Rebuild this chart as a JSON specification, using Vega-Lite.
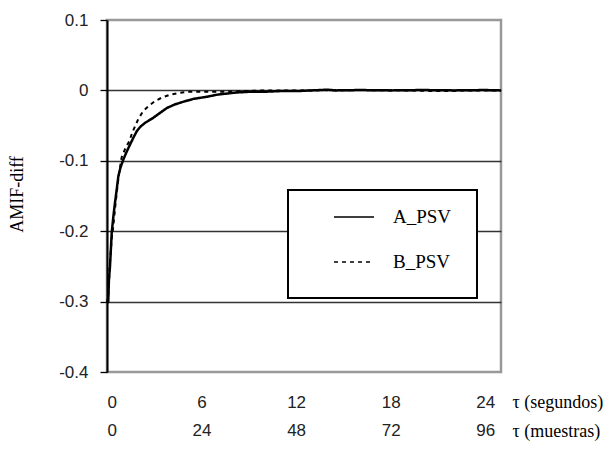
{
  "$schema": "https://vega.github.io/schema/vega-lite/v6.json",
  "width": 394,
  "height": 352,
  "autosize": {"type": "none"},
  "padding": {"left": 107, "top": 20, "right": 112, "bottom": 83},
  "background": "white",
  "data": {
    "values": [
      {"t": 0, "v": -0.302, "series": "A_PSV"},
      {"t": 0.08, "v": -0.3, "series": "A_PSV"},
      {"t": 0.12, "v": -0.27, "series": "A_PSV"},
      {"t": 0.19, "v": -0.25, "series": "A_PSV"},
      {"t": 0.3, "v": -0.202, "series": "A_PSV"},
      {"t": 0.4, "v": -0.18, "series": "A_PSV"},
      {"t": 0.51, "v": -0.159, "series": "A_PSV"},
      {"t": 0.62, "v": -0.14, "series": "A_PSV"},
      {"t": 0.72, "v": -0.122, "series": "A_PSV"},
      {"t": 0.85, "v": -0.11, "series": "A_PSV"},
      {"t": 1.04, "v": -0.098, "series": "A_PSV"},
      {"t": 1.25, "v": -0.087, "series": "A_PSV"},
      {"t": 1.46, "v": -0.077, "series": "A_PSV"},
      {"t": 1.7, "v": -0.066, "series": "A_PSV"},
      {"t": 1.89, "v": -0.058, "series": "A_PSV"},
      {"t": 2.1, "v": -0.052, "series": "A_PSV"},
      {"t": 2.42, "v": -0.046, "series": "A_PSV"},
      {"t": 2.93, "v": -0.039, "series": "A_PSV"},
      {"t": 3.3, "v": -0.033, "series": "A_PSV"},
      {"t": 3.8, "v": -0.025, "series": "A_PSV"},
      {"t": 4.3, "v": -0.02, "series": "A_PSV"},
      {"t": 4.86, "v": -0.016, "series": "A_PSV"},
      {"t": 5.5, "v": -0.012, "series": "A_PSV"},
      {"t": 6.34, "v": -0.009, "series": "A_PSV"},
      {"t": 7.0, "v": -0.006, "series": "A_PSV"},
      {"t": 8.2, "v": -0.003, "series": "A_PSV"},
      {"t": 9.0, "v": -0.002, "series": "A_PSV"},
      {"t": 9.9, "v": -0.002, "series": "A_PSV"},
      {"t": 11, "v": -0.001, "series": "A_PSV"},
      {"t": 12, "v": -0.001, "series": "A_PSV"},
      {"t": 13, "v": 0, "series": "A_PSV"},
      {"t": 14, "v": 0.001, "series": "A_PSV"},
      {"t": 14.5, "v": 0, "series": "A_PSV"},
      {"t": 16, "v": 0.0005, "series": "A_PSV"},
      {"t": 18, "v": 0, "series": "A_PSV"},
      {"t": 20, "v": 0.0005, "series": "A_PSV"},
      {"t": 22, "v": 0, "series": "A_PSV"},
      {"t": 24, "v": 0.0005, "series": "A_PSV"},
      {"t": 25, "v": 0, "series": "A_PSV"},
      {"t": 0, "v": -0.302, "series": "B_PSV"},
      {"t": 0.08, "v": -0.29, "series": "B_PSV"},
      {"t": 0.2, "v": -0.24, "series": "B_PSV"},
      {"t": 0.3, "v": -0.21, "series": "B_PSV"},
      {"t": 0.4, "v": -0.193, "series": "B_PSV"},
      {"t": 0.5, "v": -0.17, "series": "B_PSV"},
      {"t": 0.62, "v": -0.145, "series": "B_PSV"},
      {"t": 0.75, "v": -0.12, "series": "B_PSV"},
      {"t": 0.93, "v": -0.095, "series": "B_PSV"},
      {"t": 1.15, "v": -0.083, "series": "B_PSV"},
      {"t": 1.42, "v": -0.072, "series": "B_PSV"},
      {"t": 1.6, "v": -0.06, "series": "B_PSV"},
      {"t": 1.78, "v": -0.051, "series": "B_PSV"},
      {"t": 2.0, "v": -0.04, "series": "B_PSV"},
      {"t": 2.31, "v": -0.029, "series": "B_PSV"},
      {"t": 2.7, "v": -0.021, "series": "B_PSV"},
      {"t": 3.06, "v": -0.015, "series": "B_PSV"},
      {"t": 3.5, "v": -0.01, "series": "B_PSV"},
      {"t": 4.01, "v": -0.006, "series": "B_PSV"},
      {"t": 4.5, "v": -0.004, "series": "B_PSV"},
      {"t": 5.07, "v": -0.002, "series": "B_PSV"},
      {"t": 6.1, "v": -0.002, "series": "B_PSV"},
      {"t": 7.2, "v": -0.002, "series": "B_PSV"},
      {"t": 8.5, "v": -0.001, "series": "B_PSV"},
      {"t": 10, "v": 0, "series": "B_PSV"},
      {"t": 13, "v": 0, "series": "B_PSV"},
      {"t": 16, "v": 0.0005, "series": "B_PSV"},
      {"t": 19, "v": 0, "series": "B_PSV"},
      {"t": 21, "v": -0.001, "series": "B_PSV"},
      {"t": 23, "v": 0, "series": "B_PSV"},
      {"t": 25, "v": 0, "series": "B_PSV"}
    ]
  },
  "layer": [
    {
      "transform": [{"filter": "datum.series === 'A_PSV'"}],
      "mark": {"type": "line", "color": "black", "strokeWidth": 2.5},
      "encoding": {
        "x": {
          "field": "t", "type": "quantitative",
          "scale": {"domain": [0, 25], "nice": false, "zero": false},
          "axis": {
            "orient": "bottom",
            "values": [0, 6, 12, 18, 24], "ticks": false, "domain": false, "grid": false,
            "labelDx": 5, "labelPadding": 22,
            "title": "τ (segundos)", "titleX": 405, "titleY": 30, "titleAlign": "left", "titleBaseline": "middle"
          }
        },
        "y": {
          "field": "v", "type": "quantitative",
          "scale": {"domain": [-0.4, 0.1], "nice": false, "zero": false},
          "axis": {
            "values": [0.1, 0, -0.1, -0.2, -0.3, -0.4],
            "labelExpr": "datum.value == 0 ? '0' : (datum.value < 0 ? '-' + format(-datum.value, '.1f') : format(datum.value, '.1f'))",
            "grid": true,
            "gridColor": {"condition": {"test": "datum.value > 0.05 || datum.value < -0.35", "value": "transparent"}, "value": "#333"},
            "gridWidth": 1.3,
            "domain": true, "domainColor": "black", "domainWidth": 2,
            "ticks": true, "tickSize": 7, "tickColor": "black", "tickWidth": 1.3,
            "labelPadding": 12,
            "title": "AMIF-diff", "titleX": -90, "titleY": 174, "titleAlign": "center", "titleBaseline": "middle"
          }
        },
        "strokeDash": {
          "field": "series", "type": "nominal",
          "scale": {"domain": ["A_PSV", "B_PSV"], "range": [[1, 0], [4, 4]]},
          "legend": {
            "title": "\u200b", "titleOrient": "bottom", "titleFontSize": 17, "titlePadding": 4,
            "orient": "none", "legendX": 181, "legendY": 170,
            "symbolType": "stroke", "symbolSize": 1600, "symbolStrokeWidth": 1.5, "symbolStrokeColor": "black",
            "symbolOffset": 39, "labelOffset": 18, "padding": 6, "rowPadding": 14,
            "labelFont": "Liberation Serif", "labelFontSize": 19, "labelColor": "black",
            "labelExpr": "datum.label + '\u00a0\u00a0\u00a0\u00a0\u200b'",
            "strokeColor": "black", "fillColor": "white"
          }
        }
      }
    },
    {
      "transform": [{"filter": "datum.series === 'B_PSV'"}],
      "mark": {"type": "line", "color": "black", "strokeWidth": 2},
      "encoding": {
        "x": {
          "field": "t", "type": "quantitative",
          "axis": {
            "orient": "bottom",
            "values": [0, 6, 12, 18, 24], "ticks": false, "domain": false, "grid": false,
            "labelExpr": "format(datum.value * 4, 'd')",
            "labelDx": 5, "labelPadding": 22, "offset": 28,
            "title": "τ (muestras)", "titleX": 405, "titleY": 31, "titleAlign": "left", "titleBaseline": "middle"
          }
        },
        "y": {"field": "v", "type": "quantitative"},
        "strokeDash": {"field": "series", "type": "nominal"}
      }
    }
  ],
  "resolve": {"axis": {"x": "independent"}},
  "config": {
    "view": {"stroke": "#999", "strokeWidth": 2.5},
    "axis": {
      "labelFont": "Liberation Sans", "labelFontSize": 17, "labelColor": "#222",
      "titleFont": "Liberation Serif", "titleFontSize": 18, "titleFontWeight": "normal", "titleColor": "black"
    },
    "legend": {"strokeWidth": 2}
  }
}
